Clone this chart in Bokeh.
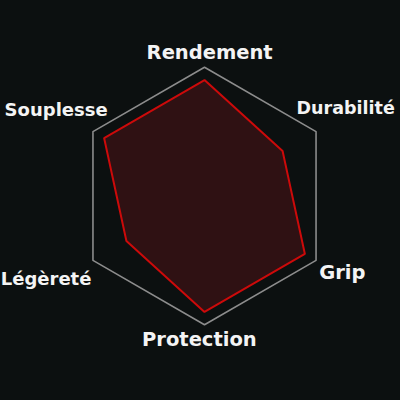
import numpy as np
from bokeh.plotting import figure
from bokeh.models import ColumnDataSource, Range1d
from bokeh.core.properties import value
from bokeh.embed import file_html
from bokeh.resources import INLINE

# ---- data ----
categories = ["Rendement", "Durabilité", "Grip", "Protection", "Légèreté", "Souplesse"]
scores = [9, 7, 9, 9, 7, 9]
max_score = 10

# ---- layout / style ----
BG = "#0c1010"
angles_deg = [90, 30, -30, -90, 210, 150]
# label anchors (in radius units relative to centre), alignment, size
label_pos = [(0.040, 1.112, "center", "19.5px"),
             (0.715, 0.685, "left", "17.5px"),
             (0.890, -0.596, "left", "19.5px"),
             (-0.040, -1.114, "center", "19.5px"),
             (-0.878, -0.640, "right", "18px"),
             (-0.752, 0.672, "right", "18px")]

scale = 128.8  # px per unit radius
cx, cy = 204.0, 195.5
W = H = 400

p = figure(width=W, height=H, output_backend="svg", toolbar_location=None,
           x_range=Range1d(-cx / scale, (W - cx) / scale),
           y_range=Range1d(-(H - cy) / scale, cy / scale),
           min_border=0, background_fill_color=BG, border_fill_color=BG,
           outline_line_color=None)
p.axis.visible = False
p.grid.visible = False

ang = np.deg2rad(angles_deg)
hx = list(np.cos(ang))
hy = list(np.sin(ang))
p.patch(hx + [hx[0]], hy + [hy[0]], fill_color=None, line_color="#8c8c8c", line_width=1.6)

r = np.array(scores) / max_score
dx = list(r * np.cos(ang))
dy = list(r * np.sin(ang))
p.patch(dx, dy, fill_color="#2f1113", fill_alpha=1.0, line_color="#cc0a0a", line_width=2)

for cat, (lx, ly, al, fs) in zip(categories, label_pos):
    p.text([lx], [ly], text=[cat], text_align=al, text_baseline="alphabetic",
           text_color="#f4f4f4", text_font=value("DejaVu Sans"), text_font_style="bold",
           text_font_size=fs)

html = file_html(p, INLINE)
html = html.replace("<body>", '<body style="margin:0;background:%s">' % BG)
open("out.html", "w").write(html)
